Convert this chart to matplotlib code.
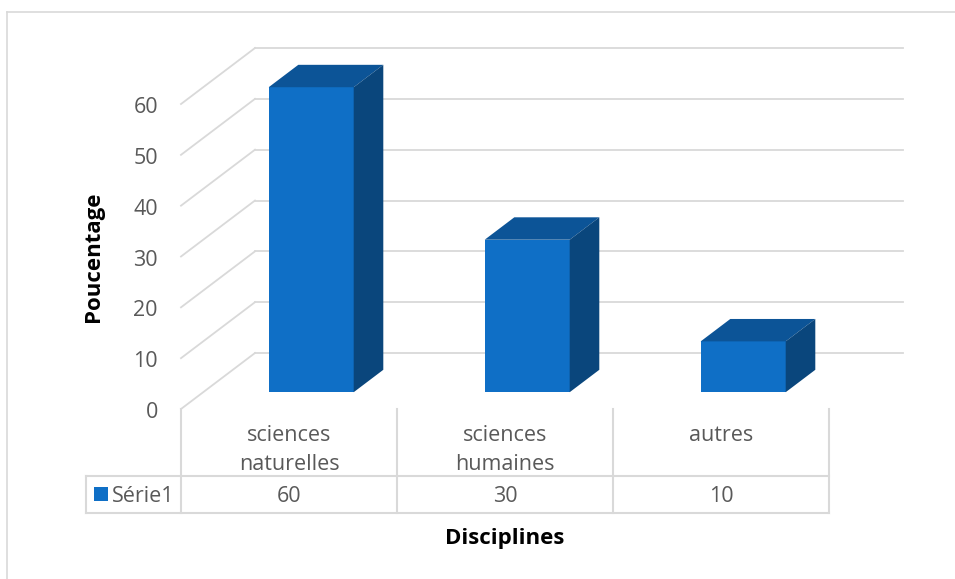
import matplotlib
matplotlib.use('Agg')
import matplotlib.pyplot as plt
from matplotlib.patches import Polygon, Rectangle

categories = ['sciences\nnaturelles', 'sciences\nhumaines', 'autres']
values = [60, 30, 10]
series_name = 'Série1'
y_ticks = [0, 10, 20, 30, 40, 50, 60]

# colours of the extruded columns
front_col = '#0F6FC6'
top_col = '#0C5497'
side_col = '#0A467C'
grid_col = '#D9D9D9'
text_col = '#595959'

plt.rcParams['font.family'] = ['Open Sans', 'DejaVu Sans']
fs = 15.5
fs_title = 16

W, H = 955, 579
fig = plt.figure(figsize=(W / 100, H / 100), dpi=100)
ax = fig.add_axes([0, 0, 1, 1])

# one x unit = one category slot, y in percent
px_x = 216.0          # pixels per category slot
px_y = 5.083          # pixels per percent
x0_px, y0_px = 181, 409
ax.set_xlim(-x0_px / px_x, (W - x0_px) / px_x)
ax.set_ylim(-(H - y0_px) / px_y, y0_px / px_y)
ax.axis('off')


def px(x, y):
    # pixel position (from top-left) -> data coords
    return (x - x0_px) / px_x, (y0_px - y) / px_y


# oblique depth of the floor (full depth) in data units
ddx = 74 / px_x
ddy = 56 / px_y
d_front, d_back = 0.30, 0.70
bar_w = 85 / px_x

# outer frame of the chart area
fx0, fy0 = px(7, 12)
fx1, fy1 = px(W, H)
ax.plot([fx0, fx0], [fy1, fy0], color=grid_col, lw=1.2)
ax.plot([fx0, fx1], [fy0, fy0], color=grid_col, lw=1.2)

# side wall diagonals and back wall gridlines
n = len(categories)
for v in y_ticks:
    ax.plot([0, ddx], [v, v + ddy], color=grid_col, lw=1.3, zorder=1)
    ax.plot([ddx, n + ddx], [v + ddy, v + ddy], color=grid_col, lw=1.3, zorder=1)
    ax.text(-23 / px_x, v - 9 / px_y, str(v), ha='right', va='baseline',
            fontsize=fs, color=text_col)

# 3D columns
for i, v in enumerate(values):
    xl = i + 0.5 - bar_w / 2
    xr = i + 0.5 + bar_w / 2
    fx, fy = d_front * ddx, d_front * ddy
    bx, by = d_back * ddx, d_back * ddy
    front = Polygon([(xl + fx, fy), (xr + fx, fy), (xr + fx, v + fy), (xl + fx, v + fy)],
                    closed=True, fc=front_col, ec='none', zorder=3)
    top = Polygon([(xl + fx, v + fy), (xr + fx, v + fy), (xr + bx, v + by), (xl + bx, v + by)],
                  closed=True, fc=top_col, ec='none', zorder=3)
    side = Polygon([(xr + fx, fy), (xr + bx, by), (xr + bx, v + by), (xr + fx, v + fy)],
                   closed=True, fc=side_col, ec='none', zorder=3)
    for p in (front, top, side):
        ax.add_patch(p)

# data table below the plot
_, row1_bot = px(0, 476)
_, row2_bot = px(0, 513)
legend_left, _ = px(86, 0)
for k in range(n + 1):
    ax.plot([k, k], [0, row2_bot], color=grid_col, lw=1.5, zorder=2)
ax.plot([legend_left, n], [row1_bot, row1_bot], color=grid_col, lw=1.5, zorder=2)
ax.plot([legend_left, n], [row2_bot, row2_bot], color=grid_col, lw=1.5, zorder=2)
ax.plot([legend_left, legend_left], [row1_bot, row2_bot], color=grid_col, lw=1.5, zorder=2)

for i, (c, v) in enumerate(zip(categories, values)):
    for j, line in enumerate(c.split('\n')):
        ax.text(i + 0.5, px(0, 441 + 29 * j)[1], line, ha='center', va='baseline',
                fontsize=fs, color=text_col)
    ax.text(i + 0.5, px(0, 502)[1], str(v), ha='center', va='baseline',
            fontsize=fs, color=text_col)

sx, sy = px(94, 501)
ax.add_patch(Rectangle((sx, sy), 14 / px_x, 14 / px_y, fc=front_col, ec='none'))
ax.text(px(112, 0)[0], px(0, 502)[1], series_name, ha='left', va='baseline',
        fontsize=fs, color=text_col)

# axis titles
ax.text(*px(99, 257), 'Poucentage', rotation=90, rotation_mode='anchor',
        ha='center', va='baseline', fontsize=fs_title, fontweight='bold', color='black')
ax.text(*px(505, 544), 'Disciplines',
        ha='center', va='baseline', fontsize=fs_title, fontweight='bold', color='black')

fig.savefig('out.png', dpi=100)
